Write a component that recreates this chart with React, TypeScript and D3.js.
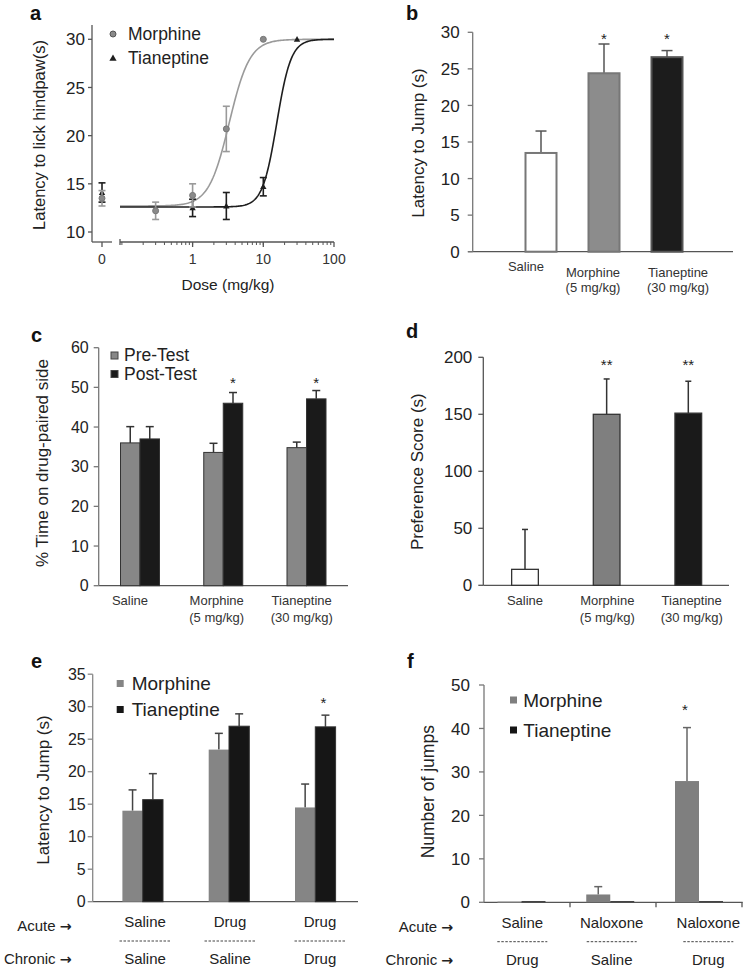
import React from "react";
import * as d3 from "d3";

const FONT = "'Liberation Sans', Arial, Helvetica, sans-serif";

// ---------- Panel a : dose-response ----------
const aMorphDose = [0, 0.3, 1, 3, 10];
const aMorphLat = [13.5, 12.2, 13.8, 20.7, 30];
const aMorphErr = [0.8, 0.9, 1.2, 2.35, 0];
const aTianDose = [0, 1, 3, 10, 30];
const aTianLat = [14.1, 12.5, 12.7, 14.7, 30];
const aTianErr = [1.0, 0.9, 1.4, 0.95, 0];
// fitted sigmoid parameters: bottom, top, EC50, Hill slope
const aMorphFit = [12.7, 30, 3.3, 3.0];
const aTianFit = [12.6, 30, 15.5, 4.3];
const aYTicks = [10, 15, 20, 25, 30];
const aXTicks = [1, 10, 100];

// ---------- Panel b ----------
const bCats = ["Saline", "Morphine", "Tianeptine"];
const bLabels = [["Saline"], ["Morphine", "(5 mg/kg)"], ["Tianeptine", "(30 mg/kg)"]];
const bValues = [13.5, 24.4, 26.6];
const bErr = [3.0, 4.0, 0.9];
const bSig = ["", "*", "*"];
const bYTicks = [0, 5, 10, 15, 20, 25, 30];

// ---------- Panel c ----------
const cCats = ["Saline", "Morphine", "Tianeptine"];
const cLabels = [["Saline"], ["Morphine", "(5 mg/kg)"], ["Tianeptine", "(30 mg/kg)"]];
const cPre = [36.0, 33.6, 34.8];
const cPreErr = [4.1, 2.3, 1.4];
const cPost = [37.0, 46.0, 47.1];
const cPostErr = [3.1, 2.7, 2.1];
const cSig = ["", "*", "*"];
const cYTicks = [0, 10, 20, 30, 40, 50, 60];

// ---------- Panel d ----------
const dCats = ["Saline", "Morphine", "Tianeptine"];
const dLabels = [["Saline"], ["Morphine", "(5 mg/kg)"], ["Tianeptine", "(30 mg/kg)"]];
const dValues = [14, 150, 151];
const dErr = [35, 31, 28];
const dSig = ["", "**", "**"];
const dYTicks = [0, 50, 100, 150, 200];

// ---------- Panel e ----------
const eCats = ["g1", "g2", "g3"];
const eAcute = ["Saline", "Drug", "Drug"];
const eChronic = ["Saline", "Saline", "Drug"];
const eMorph = [14.0, 23.4, 14.5];
const eMorphErr = [3.2, 2.5, 3.6];
const eTian = [15.7, 27.0, 26.9];
const eTianErr = [4.0, 1.9, 1.8];
const eSig = ["", "", "*"];
const eYTicks = [0, 5, 10, 15, 20, 25, 30, 35];

// ---------- Panel f ----------
const fCats = ["g1", "g2", "g3"];
const fAcute = ["Saline", "Naloxone", "Naloxone"];
const fChronic = ["Drug", "Saline", "Drug"];
const fMorph = [0.15, 1.8, 27.9];
const fMorphErr = [0, 1.8, 12.3];
const fTian = [0.3, 0.3, 0.3];
const fTianErr = [0, 0, 0];
const fSig = ["", "", "*"];
const fYTicks = [0, 10, 20, 30, 40, 50];

const AX = "#555";
const GRAY = "#878787";
const BLACK = "#1a1a1a";

function YAxis({ scale, x, ticks, top, bottom, gap, fs, tickLen = 5, color = AX }: any) {
  return (
    <g>
      <line x1={x} x2={x} y1={bottom} y2={top} stroke={color} strokeWidth={1.3} />
      {ticks.map((t: number) => (
        <g key={t}>
          <line x1={x - tickLen} x2={x} y1={scale(t)} y2={scale(t)} stroke={color} strokeWidth={1.3} />
          <text x={x - gap} y={scale(t)} dy="0.36em" textAnchor="end" fontSize={fs} fill="#222">
            {t}
          </text>
        </g>
      ))}
    </g>
  );
}

function YLabel({ x, y, text, fs }: any) {
  return (
    <text transform={`translate(${x},${y}) rotate(-90)`} textAnchor="middle" dy="0.35em" fontSize={fs} fill="#222">
      {text}
    </text>
  );
}

function ErrUp({ x, y0, y1, cap, color = "#333", w = 1.5 }: any) {
  if (Math.abs(y0 - y1) < 0.5) return null;
  return (
    <g stroke={color} strokeWidth={w}>
      <line x1={x} x2={x} y1={y0} y2={y1} />
      <line x1={x - cap / 2} x2={x + cap / 2} y1={y1} y2={y1} />
    </g>
  );
}

function Letter({ x, y, t }: any) {
  return (
    <text x={x} y={y} fontSize={20} fontWeight="bold" fill="#111">
      {t}
    </text>
  );
}

function Star({ x, y, t }: any) {
  return (
    <text x={x} y={y + 8} textAnchor="middle" fontSize={15} fill="#222">
      {t}
    </text>
  );
}

function CatLabels({ xs, labels, ys, y2, fs }: any) {
  return (
    <g fontSize={fs} fill="#333" textAnchor="middle">
      {labels.map((ls: string[], i: number) =>
        ls.map((l: string, j: number) => (
          <text key={i + "-" + j} x={xs[i]} y={j === 0 ? ys[i] : y2} dy="0.35em">
            {l}
          </text>
        ))
      )}
    </g>
  );
}

function PanelA() {
  const y = d3.scaleLinear().domain([10, 30]).range([232, 39.3]);
  const xl = d3.scaleLog().domain([0.094, 100]).range([120, 334]);
  const x0 = 102;
  const xp = (d: number) => (d === 0 ? x0 : xl(d));
  const axisY = 242;
  const hill = (p: number[]) => (d: number) => p[0] + (p[1] - p[0]) / (1 + Math.pow(p[2] / d, p[3]));
  const samples = d3.range(0, 201).map((i) => Math.pow(10, Math.log10(0.094) + (i / 200) * (2 - Math.log10(0.094))));
  const line = (p: number[]) =>
    d3
      .line<number>()
      .x((d) => xl(d))
      .y((d) => y(hill(p)(d)))(samples) as string;
  const minor: number[] = [];
  [0.1, 1, 10].forEach((b) => d3.range(1, 10).forEach((k) => minor.push(b * k)));
  const tri = (cx: number, cy: number, s: number) =>
    `M${cx},${cy - s} L${cx + s},${cy + s * 0.75} L${cx - s},${cy + s * 0.75} Z`;
  const mCol = "#9a9a9a";
  const tCol = "#1e1e1e";
  return (
    <g>
      <Letter x={30} y={20} t="a" />
      <YAxis scale={y} x={92} ticks={aYTicks} top={25} bottom={axisY} gap={7} fs={17} tickLen={4} />
      <line x1={92} x2={112} y1={axisY} y2={axisY} stroke={AX} strokeWidth={1.3} />
      <line x1={x0} x2={x0} y1={axisY} y2={axisY + 5} stroke={AX} strokeWidth={1.3} />
      <line x1={120} x2={334} y1={axisY} y2={axisY} stroke={AX} strokeWidth={1.3} />
      <line x1={120} x2={120} y1={axisY - 3} y2={axisY + 3} stroke={AX} strokeWidth={1.3} />
      {minor
        .filter((m) => m >= 0.094 && m <= 100)
        .map((m) => (
          <line key={m} x1={xl(m)} x2={xl(m)} y1={axisY} y2={axisY + 3} stroke={AX} strokeWidth={1} />
        ))}
      {aXTicks.map((t) => (
        <line key={t} x1={xl(t)} x2={xl(t)} y1={axisY} y2={axisY + 5} stroke={AX} strokeWidth={1.3} />
      ))}
      <g fontSize={14} fill="#333" textAnchor="middle">
        <text x={x0} y={259} dy="0.35em">0</text>
        {aXTicks.map((t) => (
          <text key={t} x={xl(t)} y={259} dy="0.35em">
            {t}
          </text>
        ))}
      </g>
      <text x={228} y={285} dy="0.35em" textAnchor="middle" fontSize={15.5} fill="#222">
        Dose (mg/kg)
      </text>
      <YLabel x={39} y={135} text="Latency to lick hindpaw(s)" fs={16.5} />
      <path d={line(aMorphFit)} fill="none" stroke={mCol} strokeWidth={1.6} />
      <path d={line(aTianFit)} fill="none" stroke={tCol} strokeWidth={1.6} />
      {aTianDose.map((d, i) => (
        <g key={"t" + i} stroke={tCol} strokeWidth={1.6}>
          {aTianErr[i] > 0 && (
            <>
              <line x1={xp(d)} x2={xp(d)} y1={y(aTianLat[i] - aTianErr[i])} y2={y(aTianLat[i] + aTianErr[i])} />
              <line x1={xp(d) - 3.5} x2={xp(d) + 3.5} y1={y(aTianLat[i] - aTianErr[i])} y2={y(aTianLat[i] - aTianErr[i])} />
              <line x1={xp(d) - 3.5} x2={xp(d) + 3.5} y1={y(aTianLat[i] + aTianErr[i])} y2={y(aTianLat[i] + aTianErr[i])} />
            </>
          )}
          <path d={tri(xp(d), y(aTianLat[i]), 3.2)} fill={tCol} stroke="none" />
        </g>
      ))}
      {aMorphDose.map((d, i) => (
        <g key={"m" + i} stroke={mCol} strokeWidth={1.6}>
          {aMorphErr[i] > 0 && (
            <>
              <line x1={xp(d)} x2={xp(d)} y1={y(aMorphLat[i] - aMorphErr[i])} y2={y(aMorphLat[i] + aMorphErr[i])} />
              <line x1={xp(d) - 3.5} x2={xp(d) + 3.5} y1={y(aMorphLat[i] - aMorphErr[i])} y2={y(aMorphLat[i] - aMorphErr[i])} />
              <line x1={xp(d) - 3.5} x2={xp(d) + 3.5} y1={y(aMorphLat[i] + aMorphErr[i])} y2={y(aMorphLat[i] + aMorphErr[i])} />
            </>
          )}
          <circle cx={xp(d)} cy={y(aMorphLat[i])} r={3} fill="#8a8a8a" stroke="#777" strokeWidth={1} />
        </g>
      ))}
      <circle cx={113} cy={34} r={3} fill="#8a8a8a" stroke="#555" strokeWidth={1} />
      <path d={tri(113, 58, 3.6)} fill={tCol} />
      <g fontSize={17.5} fill="#222">
        <text x={128} y={34} dy="0.35em">Morphine</text>
        <text x={128} y={58} dy="0.35em">Tianeptine</text>
      </g>
    </g>
  );
}

function PanelB() {
  const y = d3.scaleLinear().domain([0, 30]).range([251.7, 32.3]);
  const x = d3.scalePoint<string>().domain(bCats).range([541, 667]);
  const w = 31;
  const fills = ["#ffffff", "#8c8c8c", "#1c1c1c"];
  const strokes = ["#777", "#777", "#555"];
  const labX = [526, 593, 678];
  return (
    <g>
      <Letter x={406} y={20} t="b" />
      <line x1={468} x2={733} y1={y(0)} y2={y(0)} stroke={AX} strokeWidth={1.3} />
      <YAxis scale={y} x={472.7} ticks={bYTicks} top={y(30)} bottom={y(0)} gap={13} fs={17} color="#777" />
      <YLabel x={417.7} y={143} text="Latency to Jump (s)" fs={17} />
      {bCats.map((c, i) => (
        <g key={c}>
          <ErrUp x={x(c)} y0={y(bValues[i])} y1={y(bValues[i] + bErr[i])} cap={11} color="#555" />
          <rect x={(x(c) as number) - w / 2} y={y(bValues[i])} width={w} height={y(0) - y(bValues[i])} fill={fills[i]} stroke={strokes[i]} strokeWidth={2} />
          {bSig[i] && <Star x={x(c)} y={36} t={bSig[i]} />}
        </g>
      ))}
      <CatLabels xs={labX} labels={bLabels} ys={[266.5, 272.7, 272.7]} y2={287.3} fs={13} />
    </g>
  );
}

function PanelC() {
  const y = d3.scaleLinear().domain([0, 60]).range([585.7, 347.7]);
  const x = d3.scalePoint<string>().domain(cCats).range([140, 306.5]);
  const w = 19.5;
  const labX = [130, 216.7, 301.7];
  return (
    <g>
      <Letter x={31} y={342} t="c" />
      <line x1={98.7} x2={348} y1={y(0)} y2={y(0)} stroke={AX} strokeWidth={1.3} />
      <YAxis scale={y} x={98.7} ticks={cYTicks} top={y(60)} bottom={y(0)} gap={10} fs={16} color="#777" />
      <YLabel x={41.7} y={463} text="% Time on drug-paired side" fs={17} />
      {cCats.map((c, i) => {
        const cx = x(c) as number;
        return (
          <g key={c}>
            <ErrUp x={cx - w / 2} y0={y(cPre[i])} y1={y(cPre[i] + cPreErr[i])} cap={8} color="#333" />
            <ErrUp x={cx + w / 2} y0={y(cPost[i])} y1={y(cPost[i] + cPostErr[i])} cap={8} color="#333" />
            <rect x={cx - w} y={y(cPre[i])} width={w} height={y(0) - y(cPre[i])} fill={GRAY} stroke="#333" strokeWidth={1} />
            <rect x={cx} y={y(cPost[i])} width={w} height={y(0) - y(cPost[i])} fill={BLACK} stroke="#333" strokeWidth={1} />
            {cSig[i] && <Star x={cx + w / 2} y={380} t={cSig[i]} />}
          </g>
        );
      })}
      <rect x={111} y={352} width={7} height={7} fill={GRAY} stroke="#444" strokeWidth={1} />
      <rect x={111} y={370.5} width={7} height={7} fill={BLACK} stroke="#444" strokeWidth={1} />
      <g fontSize={17.5} fill="#222">
        <text x={124} y={361}>Pre-Test</text>
        <text x={124} y={380}>Post-Test</text>
      </g>
      <CatLabels xs={labX} labels={cLabels} ys={[600, 600, 600]} y2={617} fs={13} />
    </g>
  );
}

function PanelD() {
  const y = d3.scaleLinear().domain([0, 200]).range([585.3, 357.3]);
  const x = d3.scalePoint<string>().domain(dCats).range([525, 688.3]);
  const w = 26.7;
  const fills = ["#ffffff", "#7f7f7f", BLACK];
  const labX = [525, 607.3, 691.7];
  return (
    <g>
      <Letter x={406} y={338} t="d" />
      <line x1={483.3} x2={729} y1={y(0)} y2={y(0)} stroke={AX} strokeWidth={1.3} />
      <YAxis scale={y} x={483.3} ticks={dYTicks} top={y(200)} bottom={y(0)} gap={11} fs={17} />
      <YLabel x={416.7} y={471.7} text="Preference Score (s)" fs={17} />
      {dCats.map((c, i) => {
        const cx = x(c) as number;
        return (
          <g key={c}>
            <ErrUp x={cx} y0={y(dValues[i])} y1={y(dValues[i] + dErr[i])} cap={6} color="#333" />
            <rect x={cx - w / 2} y={y(dValues[i])} width={w} height={y(0) - y(dValues[i])} fill={fills[i]} stroke="#333" strokeWidth={1.3} />
            {dSig[i] && <Star x={cx} y={361.7} t={dSig[i]} />}
          </g>
        );
      })}
      <CatLabels xs={labX} labels={dLabels} ys={[600, 600, 600]} y2={617} fs={13} />
    </g>
  );
}

function Conditions({ xs, acute, chronic, rightX, yA, yDash, yC, dash, fs }: any) {
  return (
    <g fontSize={fs} fill="#222">
      <text x={rightX} y={yA} dy="0.35em" textAnchor="end">
        Acute <tspan fontFamily="'DejaVu Sans', sans-serif" fontWeight="bold" fontSize={fs * 0.95}>→</tspan>
      </text>
      <text x={rightX} y={yC} dy="0.35em" textAnchor="end">
        Chronic <tspan fontFamily="'DejaVu Sans', sans-serif" fontWeight="bold" fontSize={fs * 0.95}>→</tspan>
      </text>
      {xs.map((cx: number, i: number) => (
        <g key={i} textAnchor="middle">
          <text x={cx} y={yA - 4} dy="0.35em">{acute[i]}</text>
          <line x1={cx - dash / 2} x2={cx + dash / 2} y1={yDash} y2={yDash} stroke="#444" strokeWidth={1} strokeDasharray="2.5,1.5" />
          <text x={cx} y={yC} dy="0.35em">{chronic[i]}</text>
        </g>
      ))}
    </g>
  );
}

function PanelE() {
  const y = d3.scaleLinear().domain([0, 35]).range([901.7, 674.2]);
  const x = d3.scalePoint<string>().domain(eCats).range([142.7, 315.3]);
  const w = 20.3;
  const labX = [145, 230, 320];
  return (
    <g>
      <Letter x={31} y={668} t="e" />
      <line x1={92.7} x2={358} y1={y(0)} y2={y(0)} stroke={AX} strokeWidth={1.3} />
      <YAxis scale={y} x={92.7} ticks={eYTicks} top={y(35)} bottom={y(0)} gap={7} fs={16} color="#888" />
      <YLabel x={43.3} y={790} text="Latency to Jump (s)" fs={17} />
      {eCats.map((c, i) => {
        const cx = x(c) as number;
        return (
          <g key={c}>
            <ErrUp x={cx - w / 2} y0={y(eMorph[i])} y1={y(eMorph[i] + eMorphErr[i])} cap={8} color="#444" />
            <ErrUp x={cx + w / 2} y0={y(eTian[i])} y1={y(eTian[i] + eTianErr[i])} cap={8} color="#444" />
            <rect x={cx - w} y={y(eMorph[i])} width={w} height={y(0) - y(eMorph[i])} fill="#858585" />
            <rect x={cx} y={y(eTian[i])} width={w} height={y(0) - y(eTian[i])} fill="#161616" stroke="#333" strokeWidth={1} />
            {eSig[i] && <Star x={cx + w / 2 - 2} y={700} t={eSig[i]} />}
          </g>
        );
      })}
      <rect x={116.7} y={680} width={7} height={7} fill="#858585" />
      <rect x={116.7} y={706} width={7} height={7} fill="#161616" />
      <g fontSize={19} fill="#222">
        <text x={131.7} y={683.5} dy="0.35em">Morphine</text>
        <text x={131.7} y={709.5} dy="0.35em">Tianeptine</text>
      </g>
      <Conditions xs={labX} acute={eAcute} chronic={eChronic} rightX={71.7} yA={926} yDash={941} yC={959} dash={51} fs={15} />
    </g>
  );
}

function PanelF() {
  const y = d3.scaleLinear().domain([0, 50]).range([902.3, 685]);
  const x = d3.scalePoint<string>().domain(fCats).range([521.5, 699]);
  const w = 24;
  const labX = [522.3, 611.7, 708.3];
  const divs = [570, 656, 742];
  return (
    <g>
      <Letter x={407} y={668} t="f" />
      <line x1={484} x2={742.7} y1={y(0)} y2={y(0)} stroke={AX} strokeWidth={1.3} />
      {divs.map((d) => (
        <line key={d} x1={d} x2={d} y1={y(0)} y2={y(0) + 5} stroke={AX} strokeWidth={1.3} />
      ))}
      <YAxis scale={y} x={484} ticks={fYTicks} top={y(50)} bottom={y(0)} gap={14} fs={17} color="#777" />
      <YLabel x={428.3} y={791.7} text="Number of jumps" fs={17.5} />
      {fCats.map((c, i) => {
        const cx = x(c) as number;
        return (
          <g key={c}>
            <ErrUp x={cx - w / 2} y0={y(fMorph[i])} y1={y(fMorph[i] + fMorphErr[i])} cap={8} color="#666" />
            <ErrUp x={cx + w / 2} y0={y(fTian[i])} y1={y(fTian[i] + fTianErr[i])} cap={8} color="#666" />
            <rect x={cx - w} y={y(fMorph[i])} width={w} height={Math.max(1.2, y(0) - y(fMorph[i]))} fill="#7f7f7f" />
            <rect x={cx} y={y(fTian[i])} width={w} height={Math.max(1.2, y(0) - y(fTian[i]))} fill="#444" />
            {fSig[i] && <Star x={cx - w / 2 - 2} y={707} t={fSig[i]} />}
          </g>
        );
      })}
      <rect x={510} y={696.5} width={7} height={7} fill="#7f7f7f" />
      <rect x={510} y={726.5} width={7} height={7} fill="#161616" />
      <g fontSize={19} fill="#222">
        <text x={523.3} y={700} dy="0.35em">Morphine</text>
        <text x={523.3} y={730} dy="0.35em">Tianeptine</text>
      </g>
      <Conditions xs={labX} acute={fAcute} chronic={fChronic} rightX={453.3} yA={926.7} yDash={941.7} yC={959.3} dash={50} fs={15} />
    </g>
  );
}

export default function App() {
  return (
    <svg
      width={743}
      height={970}
      viewBox="0 0 743 970"
      style={{ position: "absolute", left: 0, top: 0, display: "block", background: "#fff", fontFamily: FONT }}
    >
      <rect width={743} height={970} fill="#fff" />
      <PanelA />
      <PanelB />
      <PanelC />
      <PanelD />
      <PanelE />
      <PanelF />
    </svg>
  );
}
